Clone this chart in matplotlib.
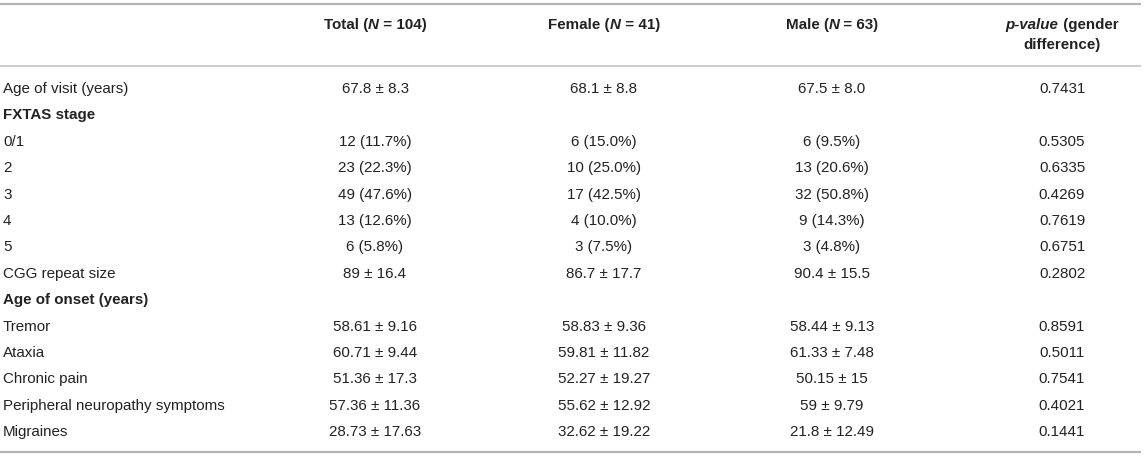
import matplotlib
matplotlib.use("Agg")
import matplotlib.pyplot as plt

plt.rcParams['font.family'] = ['Liberation Sans', 'DejaVu Sans']

row_labels = ["Age of visit (years)", "FXTAS stage", "0/1", "2", "3", "4", "5",
              "CGG repeat size", "Age of onset (years)", "Tremor", "Ataxia",
              "Chronic pain", "Peripheral neuropathy symptoms", "Migraines"]
bold_rows = ["FXTAS stage", "Age of onset (years)"]
total_vals = ["67.8 \u00b1 8.3", "", "12 (11.7%)", "23 (22.3%)", "49 (47.6%)", "13 (12.6%)",
              "6 (5.8%)", "89 \u00b1 16.4", "", "58.61 \u00b1 9.16", "60.71 \u00b1 9.44",
              "51.36 \u00b1 17.3", "57.36 \u00b1 11.36", "28.73 \u00b1 17.63"]
female_vals = ["68.1 \u00b1 8.8", "", "6 (15.0%)", "10 (25.0%)", "17 (42.5%)", "4 (10.0%)",
               "3 (7.5%)", "86.7 \u00b1 17.7", "", "58.83 \u00b1 9.36", "59.81 \u00b1 11.82",
               "52.27 \u00b1 19.27", "55.62 \u00b1 12.92", "32.62 \u00b1 19.22"]
male_vals = ["67.5 \u00b1 8.0", "", "6 (9.5%)", "13 (20.6%)", "32 (50.8%)", "9 (14.3%)",
             "3 (4.8%)", "90.4 \u00b1 15.5", "", "58.44 \u00b1 9.13", "61.33 \u00b1 7.48",
             "50.15 \u00b1 15", "59 \u00b1 9.79", "21.8 \u00b1 12.49"]
p_vals = ["0.7431", "", "0.5305", "0.6335", "0.4269", "0.7619", "0.6751", "0.2802", "",
          "0.8591", "0.5011", "0.7541", "0.4021", "0.1441"]

headers = [
    [[("Total (", "normal", "bold"), ("N", "italic", "bold"), (" = 104)", "normal", "bold")]],
    [[("Female (", "normal", "bold"), ("N", "italic", "bold"), (" = 41)", "normal", "bold")]],
    [[("Male (", "normal", "bold"), ("N", "italic", "bold"), (" = 63)", "normal", "bold")]],
    [[("p-value", "italic", "bold"), (" (gender", "normal", "bold")],
     [("difference)", "normal", "bold")]],
]

W, H = 1145, 458
fig = plt.figure(figsize=(W / 100, H / 100), dpi=100)
ax = fig.add_axes([0, 0, 1, 1])
ax.set_xlim(0, W)
ax.set_ylim(H, 0)
ax.axis('off')

FS = 10.9
TXT = '#222222'
col_x = [375, 604, 832, 1062]
label_x = 3
row_y0 = 89
row_dy = 26.4
head_y = [25, 45]

# rules
ax.plot([0, 1141], [4, 4], color='#b4b4b4', lw=1.6, solid_capstyle='butt')
ax.plot([0, 1141], [66, 66], color='#c8c8c8', lw=1.3, solid_capstyle='butt')
ax.plot([0, 1141], [452, 452], color='#b4b4b4', lw=1.6, solid_capstyle='butt')

fig.canvas.draw()
renderer = fig.canvas.get_renderer()


def draw_runs(xc, y, runs):
    arts = []
    widths = []
    for text, style, weight in runs:
        t = ax.text(0, y, text, fontsize=FS, fontstyle=style, fontweight=weight,
                    color=TXT, ha='left', va='center')
        bb = t.get_window_extent(renderer=renderer)
        arts.append(t)
        widths.append(bb.width)
    total = sum(widths)
    x = xc - total / 2
    for t, w in zip(arts, widths):
        t.set_x(x)
        x += w


for c, lines in enumerate(headers):
    for li, runs in enumerate(lines):
        draw_runs(col_x[c], head_y[li], runs)

columns = [total_vals, female_vals, male_vals, p_vals]
for i, lab in enumerate(row_labels):
    y = row_y0 + i * row_dy
    ax.text(label_x, y, lab, fontsize=FS, color=TXT, ha='left', va='center',
            fontweight='bold' if lab in bold_rows else 'normal')
    for c, vals in enumerate(columns):
        if vals[i]:
            ax.text(col_x[c], y, vals[i], fontsize=FS, color=TXT, ha='center', va='center')

fig.savefig('out.png', dpi=100)
